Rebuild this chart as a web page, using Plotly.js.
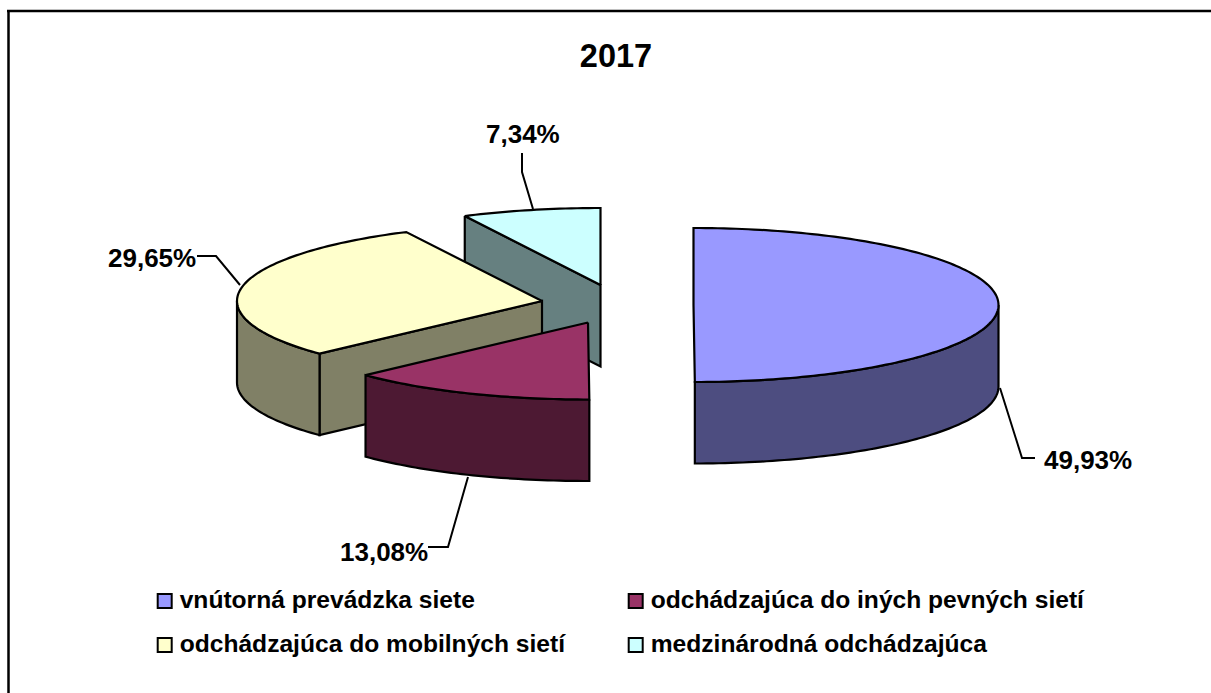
<!DOCTYPE html>
<html><head><meta charset="utf-8">
<script src="https://cdn.plot.ly/plotly-3.0.1.min.js"></script>
<style>html,body{margin:0;padding:0;background:#fff}#c{width:1211px;height:693px}</style>
</head><body><div id="c"></div>
<script>
// ---- data ----
const categories = ['vnútorná prevádzka siete','odchádzajúca do iných pevných sietí','odchádzajúca do mobilných sietí','medzinárodná odchádzajúca'];
const shares = [49.93, 13.08, 29.65, 7.34];
const shareLabels = ['49,93%','13,08%','29,65%','7,34%'];
const chartTitle = '2017';

// ---- style ----
const topColors = ['#9999FF','#993366','#FFFFCC','#CCFFFF'];
const wallColors = ['#4D4D80','#4D1933','#808066','#668080'];
const FONT = 'Liberation Sans, Arial, sans-serif';

// ---- projection of the tilted, exploded pie (plot units = pixels) ----
const RX = 305, RY = 77, DEPTH = 81.5;
const apexX = [693.5, 588, 542, 600.5];
const apexY = [305, 322.5, 301, 285];
const labelPosX = [1044, 340, 108, 486];
const labelPosY = [462, 554, 260, 136];
const leaderX = [[1000,1022,1035],[468,448,428],[240,216,197],[533,522,522]];
const leaderY = [[388,458,458],[477,547,547],[285,256,256],[209,172,153]];
const legendX = [164.7, 635.7, 164.7, 635.7];
const legendY = [601, 601, 645, 645];

const total = shares.reduce((a,b)=>a+b,0);
let acc = 0;
const spans = shares.map(v=>{const s=acc; acc+=v/total*2*Math.PI; return [s,acc];});

function rim(i,a){ return [apexX[i]+RX*Math.sin(a), apexY[i]-RY*Math.cos(a)]; }
function arc(i,a0,a1,dy){
  const n=Math.max(2,Math.ceil(Math.abs(a1-a0)/0.02)), out=[];
  for(let k=0;k<=n;k++){const p=rim(i,a0+(a1-a0)*k/n); out.push([p[0],p[1]+dy]);}
  return out;
}
function poly(pts,fill,name){
  return {type:'scatter',mode:'lines',x:pts.map(p=>p[0]),y:pts.map(p=>p[1]),fill:'toself',fillcolor:fill,
    line:{color:'#000',width:2.2,simplify:false},hoverinfo:'skip',showlegend:false,name:name};
}
const traces=[];
[3,2,1,0].forEach(i=>{
  const [a0,a1]=spans[i], apex=[apexX[i],apexY[i]];
  // cut face facing the viewer (left-hand slices)
  if(i===2||i===3){
    const r=rim(i,a0);
    traces.push(poly([r,apex,[apex[0],apex[1]+DEPTH],[r[0],r[1]+DEPTH],r],wallColors[i],categories[i]));
  }
  // outer wall: only the front half of the rim is visible
  const w0=Math.max(a0,Math.PI/2), w1=Math.min(a1,1.5*Math.PI);
  if(w1>w0){
    const up=arc(i,w0,w1,0), down=arc(i,w1,w0,DEPTH);
    traces.push(poly(up.concat(down,[up[0]]),wallColors[i],categories[i]));
  }
  // top surface
  traces.push(poly([apex].concat(arc(i,a0,a1,0),[apex]),topColors[i],categories[i]));
});
// leader lines
shares.forEach((v,i)=>traces.push({type:'scatter',mode:'lines',x:leaderX[i],y:leaderY[i],
  line:{color:'#000',width:2},hoverinfo:'skip',showlegend:false}));
// value labels
traces.push({type:'scatter',mode:'text',x:labelPosX,y:labelPosY,text:shareLabels,textposition:'middle right',
  textfont:{family:FONT,size:26,color:'#000',weight:700},hoverinfo:'skip',showlegend:false,cliponaxis:false});
// legend
traces.push({type:'scatter',mode:'markers',x:legendX,y:legendY,
  marker:{symbol:'square',size:14,color:topColors,line:{color:'#000',width:2}},hoverinfo:'skip',showlegend:false});
traces.push({type:'scatter',mode:'text',x:legendX.map(x=>x+15),y:legendY.map(y=>y+1),text:categories,textposition:'middle right',
  textfont:{family:FONT,size:24.6,color:'#000',weight:700},hoverinfo:'skip',showlegend:false,cliponaxis:false});

const layout={
  width:1211,height:693,margin:{l:0,r:0,t:0,b:0},paper_bgcolor:'#fff',plot_bgcolor:'#fff',showlegend:false,
  xaxis:{range:[0,1211],visible:false,fixedrange:true},
  yaxis:{range:[693,0],visible:false,fixedrange:true},
  title:{text:chartTitle,x:616/1211,xanchor:'center',y:1-56/693,yanchor:'middle',
    font:{family:FONT,size:32.5,color:'#000',weight:700}},
  shapes:[
    {type:'line',xref:'paper',yref:'paper',x0:8.5/1211,x1:8.5/1211,y0:0,y1:1-11/693,line:{color:'#000',width:2.5}},
    {type:'line',xref:'paper',yref:'paper',x0:7/1211,x1:1,y0:1-11/693,y1:1-11/693,line:{color:'#000',width:2.5}}
  ]
};
Plotly.newPlot('c',traces,layout,{displayModeBar:false,staticPlot:true});
</script></body></html>
